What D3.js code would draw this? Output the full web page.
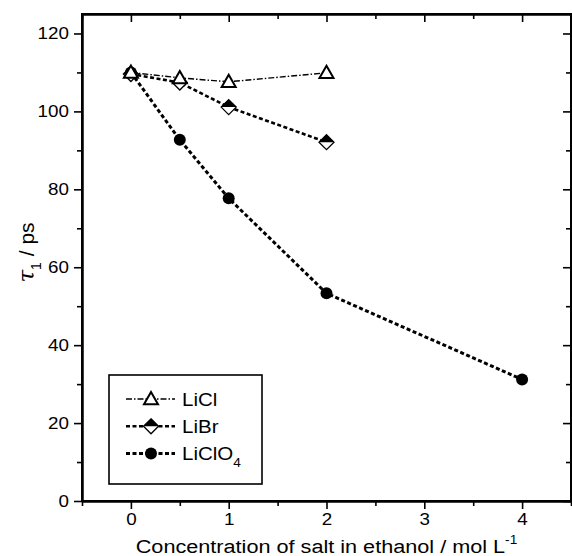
<!DOCTYPE html>
<html>
<head>
<meta charset="utf-8">
<script src="https://cdn.jsdelivr.net/npm/d3@7"></script>
<style>
  body { margin: 0; background: #fff; }
  svg { display: block; font-family: 'Liberation Sans', Arial, sans-serif; }
  .axis path, .axis line { stroke: #000; }
  .axis path { stroke-width: 2; }
  .axis line { stroke-width: 1.6; }
  .axis text { font-size: 16.5px; fill: #000; font-family: 'Liberation Sans', Arial, sans-serif; }
  .wide { transform-box: fill-box; transform-origin: center; transform: scaleX(1.14); }
  .wide-right { transform-box: fill-box; transform-origin: right center; transform: scaleX(1.14); }
  .wide-left { transform-box: fill-box; transform-origin: left center; transform: scaleX(1.14); }
</style>
</head>
<body>
<div id="graph"></div>
<script>
// concentration (mol/L)
const concLiCl = [0, 0.5, 1, 2];
const tauLiCl = [110, 108.6, 107.6, 109.9];

const concLiBr = [0, 0.5, 1, 2];
const tauLiBr = [109.6, 107.4, 101.1, 92.1];

const concLiClO4 = [0, 0.5, 1, 2, 4];
const tauLiClO4 = [110, 92.7, 77.7, 53.3, 31.2];

const xTicks = [0, 1, 2, 3, 4];
const xMinorTicks = [-0.5, 0.5, 1.5, 2.5, 3.5, 4.5];
const yTicks = [0, 20, 40, 60, 80, 100, 120];
const yMinorTicks = [10, 30, 50, 70, 90, 110];

const W = 572;
const H = 556;
const margin = { top: 14, right: 1, bottom: 55, left: 82 };

const svg = d3.select('#graph')
  .append('svg')
  .attr('width', W)
  .attr('height', H);

const xScale = d3.scaleLinear()
  .domain([-0.5, 4.5])
  .range([margin.left, W - margin.right]);

const yScale = d3.scaleLinear()
  .domain([0, 125])
  .range([H - margin.bottom, margin.top]);

const x0 = margin.left;
const x1 = W - margin.right;
const y0 = H - margin.bottom;
const y1 = margin.top;

// axes: outward on left/bottom, inward on top/right
const addAxis = (axis, transform, labelClass) => {
  const g = svg.append('g')
    .attr('class', 'axis')
    .attr('transform', transform)
    .call(axis);
  if (!labelClass) g.selectAll('text').remove();
  else g.selectAll('text').attr('class', labelClass);
  return g;
};

addAxis(d3.axisBottom(xScale).tickValues(xTicks).tickSize(8).tickSizeOuter(0).tickPadding(4)
  .tickFormat(d3.format('d')), `translate(0,${y0})`, 'wide');
addAxis(d3.axisBottom(xScale).tickValues(xMinorTicks).tickSize(5).tickSizeOuter(0)
  .tickFormat(''), `translate(0,${y0})`, null);
addAxis(d3.axisTop(xScale).tickValues(xTicks).tickSize(-8).tickSizeOuter(0), `translate(0,${y1})`, null);
addAxis(d3.axisTop(xScale).tickValues(xMinorTicks).tickSize(-5).tickSizeOuter(0), `translate(0,${y1})`, null);

addAxis(d3.axisLeft(yScale).tickValues(yTicks).tickSize(8).tickSizeOuter(0).tickPadding(5)
  .tickFormat(d3.format('d')), `translate(${x0},0)`, 'wide-right');
addAxis(d3.axisLeft(yScale).tickValues(yMinorTicks).tickSize(5).tickSizeOuter(0)
  .tickFormat(''), `translate(${x0},0)`, null);
addAxis(d3.axisRight(yScale).tickValues(yTicks).tickSize(-8).tickSizeOuter(0), `translate(${x1},0)`, null);
addAxis(d3.axisRight(yScale).tickValues(yMinorTicks).tickSize(-5).tickSizeOuter(0), `translate(${x1},0)`, null);

// frame on top
svg.append('rect')
  .attr('x', x0)
  .attr('y', y1)
  .attr('width', x1 - x0)
  .attr('height', y0 - y1)
  .attr('fill', 'none')
  .attr('stroke', '#000')
  .attr('stroke-width', 2);

// axis titles
const xTitle = svg.append('text')
  .attr('class', 'wide')
  .attr('x', (x0 + x1) / 2)
  .attr('y', 553)
  .attr('text-anchor', 'middle')
  .style('font-size', '19px');
xTitle.append('tspan').text('Concentration of salt in ethanol / mol L');
xTitle.append('tspan').attr('dy', -9).style('font-size', '12px').text('-1');

const yTitle = svg.append('text')
  .attr('transform', `translate(34,${(y0 + y1) / 2 - 5}) rotate(-90)`)
  .attr('text-anchor', 'middle')
  .style('font-size', '21px');
yTitle.append('tspan')
  .style('font-family', "'DejaVu Serif', 'Liberation Serif', serif")
  .style('font-style', 'italic')
  .style('font-size', '23px')
  .text('τ');
yTitle.append('tspan').attr('dy', 7).style('font-size', '14px').text('1');
yTitle.append('tspan').attr('dy', -7).text(' / ps');

// markers
const drawTriangle = (g, cx, cy) => {
  const s = 7;
  g.append('path')
    .attr('d', `M${cx},${cy - s} L${cx + s},${cy + s * 0.75} L${cx - s},${cy + s * 0.75} Z`)
    .attr('fill', '#fff')
    .attr('stroke', '#000')
    .attr('stroke-width', 2);
};

const drawDiamond = (g, cx, cy) => {
  const s = 7.5;
  g.append('path')
    .attr('d', `M${cx},${cy - s} L${cx + s},${cy} L${cx},${cy + s} L${cx - s},${cy} Z`)
    .attr('fill', '#fff')
    .attr('stroke', '#000')
    .attr('stroke-width', 1.3);
  g.append('path')
    .attr('d', `M${cx},${cy - s} L${cx + s},${cy} L${cx - s},${cy} Z`)
    .attr('fill', '#000');
};

const drawCircle = (g, cx, cy) => {
  g.append('circle')
    .attr('cx', cx)
    .attr('cy', cy)
    .attr('r', 6)
    .attr('fill', '#000');
};

const series = [
  { name: 'LiClO4', xs: concLiClO4, ys: tauLiClO4, dash: '4,2.5', width: 3, marker: drawCircle },
  { name: 'LiBr', xs: concLiBr, ys: tauLiBr, dash: '4,2.5', width: 2.6, marker: drawDiamond },
  { name: 'LiCl', xs: concLiCl, ys: tauLiCl, dash: '6,2,1.5,2', width: 1.4, marker: drawTriangle },
];

const line = d3.line()
  .x((d) => xScale(d[0]))
  .y((d) => yScale(d[1]));

series.forEach((s) => {
  const pts = s.xs.map((x, i) => [x, s.ys[i]]);
  svg.append('path')
    .datum(pts)
    .attr('fill', 'none')
    .attr('stroke', '#000')
    .attr('stroke-width', s.width)
    .attr('stroke-dasharray', s.dash)
    .attr('d', line);
});

series.forEach((s) => {
  const g = svg.append('g');
  s.xs.forEach((x, i) => s.marker(g, xScale(x), yScale(s.ys[i])));
});

// legend
const legend = svg.append('g').attr('class', 'legend');
legend.append('rect')
  .attr('x', 109)
  .attr('y', 375)
  .attr('width', 153)
  .attr('height', 109)
  .attr('fill', '#fff')
  .attr('stroke', '#000')
  .attr('stroke-width', 1.6);

const legendItems = [series[2], series[1], series[0]];
legendItems.forEach((s, i) => {
  const cy = 399 + i * 27.3;
  legend.append('line')
    .attr('x1', 126)
    .attr('x2', 175)
    .attr('y1', cy)
    .attr('y2', cy)
    .attr('stroke', '#000')
    .attr('stroke-width', s.width)
    .attr('stroke-dasharray', s.dash);
  s.marker(legend, 151, cy);
  const t = legend.append('text')
    .attr('class', 'wide-left')
    .attr('x', 182)
    .attr('y', cy + 6.5)
    .style('font-size', '18px');
  if (s.name === 'LiClO4') {
    t.append('tspan').text('LiClO');
    t.append('tspan').attr('dy', 7).style('font-size', '12px').text('4');
  } else {
    t.text(s.name);
  }
});
</script>
</body>
</html>
